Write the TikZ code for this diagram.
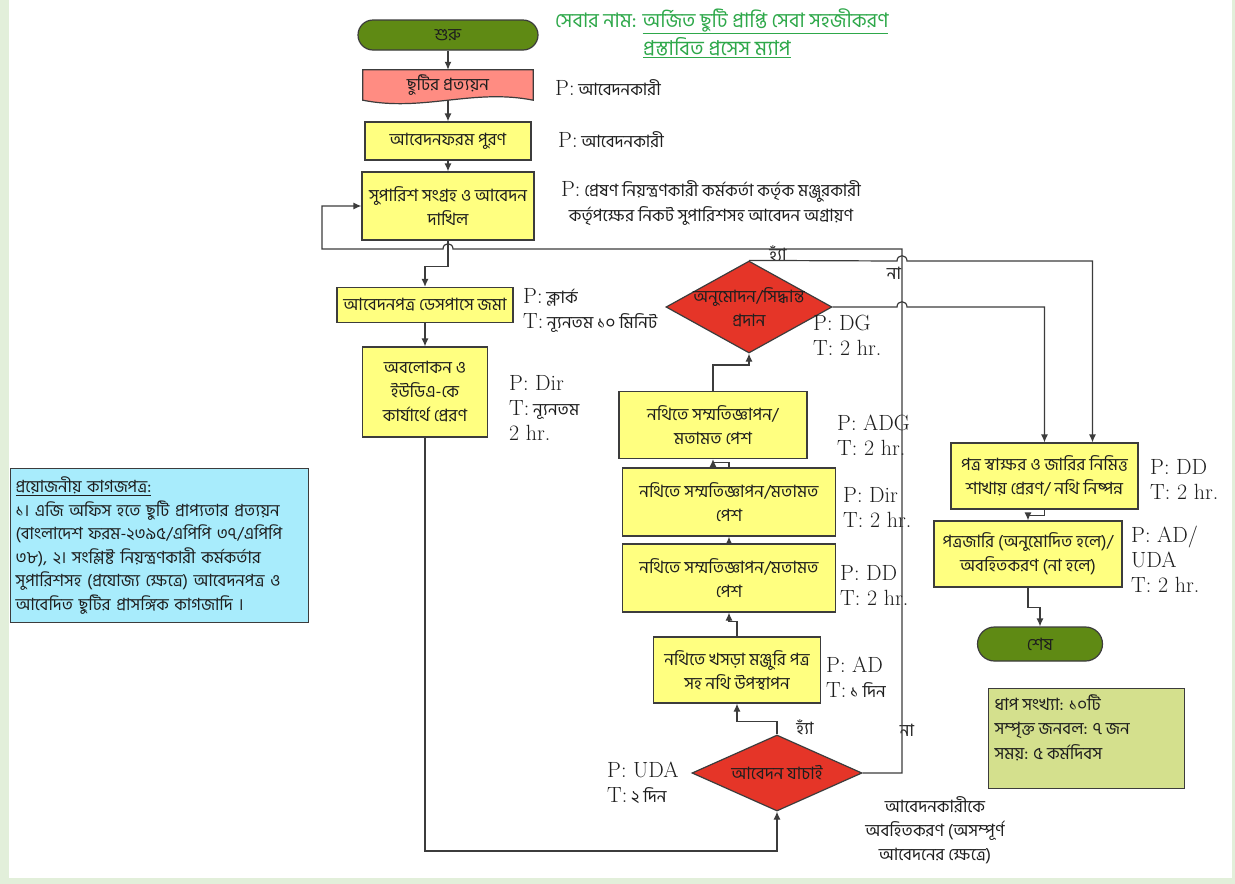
\documentclass[tikz,border=0pt]{standalone}
\usepackage{fontspec}
\newfontfamily\bangla[Script=Bengali]{Hind Siliguri}
\usetikzlibrary{arrows.meta,positioning,shapes.geometric,backgrounds}
\definecolor{pillgreen}{RGB}{95,138,20}
\definecolor{docred}{RGB}{255,140,130}
\definecolor{boxyellow}{RGB}{255,255,128}
\definecolor{diared}{RGB}{229,53,40}
\definecolor{notecyan}{RGB}{168,236,252}
\definecolor{noteolive}{RGB}{212,224,141}
\definecolor{titlegreen}{RGB}{46,168,74}
\definecolor{framegreen}{RGB}{226,239,218}
\definecolor{edge}{RGB}{60,60,60}
\definecolor{ink}{RGB}{30,30,30}
\newcommand{\bsize}{\bangla\fontsize{17}{24}\selectfont}
\newcommand{\lsize}{\fontsize{22}{25}\selectfont}

\begin{document}
\begin{tikzpicture}[x=1pt,y=-1pt,>=Latex,
  box/.style={draw=edge,fill=boxyellow,line width=1.2pt,align=center,font=\bsize,text=ink,inner sep=2pt},
  pill/.style={draw=edge,fill=pillgreen,line width=1.2pt,rounded corners=15pt,font=\bsize,text=ink},
  dia/.style={diamond,draw=edge,fill=diared,line width=1.2pt,inner sep=0pt},
  dtext/.style={font=\bsize,align=center,text=ink},
  lbl/.style={anchor=west,align=left,font=\lsize,inner sep=0pt,text=ink},
  tag/.style={font=\bsize,inner sep=0pt,text=ink},
  arr/.style={-{Latex[length=8pt,width=7pt]},draw=edge,line width=1.2pt}]
% frame
\begin{scope}[on background layer]
\fill[framegreen] (0,0) rectangle (1235,884);
\fill[white] (9,0) rectangle (1232,878);
\end{scope}
\useasboundingbox (0,0) rectangle (1235,884);

% title
\node[anchor=base west,font=\bangla\fontsize{20}{28}\selectfont,text=titlegreen,inner sep=0pt] (title) at (555,27) {সেবার নাম: \underline{অর্জিত ছুটি প্রাপ্তি সেবা সহজীকরণ}};
\node[anchor=base west,font=\bangla\fontsize{20.5}{28}\selectfont,text=titlegreen,inner sep=0pt] (subtitle) at (643,55) {\underline{প্রস্তাবিত প্রসেস ম্যাপ}};

% left column
\node[pill,minimum width=180pt,minimum height=30pt] (start) at (448,35) {শুরু};
\node[minimum width=170pt,minimum height=30pt,font=\bsize,text=ink,inner sep=0pt] (doc) at (448,85) {ছুটির প্রত্যয়ন};
\begin{scope}[on background layer]
\draw[draw=edge,fill=docred,line width=1.2pt] (doc.north west) -- (doc.north east) -- (doc.south east)
  .. controls +(-60,-12) and +(60,12) .. (doc.south west) -- cycle;
\end{scope}
\node[box,minimum width=166pt,minimum height=38pt] (form) at (448,141) {আবেদনফরম পুরণ};
\node[box,minimum width=172pt,minimum height=68pt] (recommend) at (448,206) {সুপারিশ সংগ্রহ ও আবেদন\\দাখিল};
\node[box,minimum width=176pt,minimum height=35pt] (desk) at (425,305) {আবেদনপত্র ডেসপাসে জমা};
\node[box,minimum width=125pt,minimum height=90pt] (review) at (425,392) {অবলোকন ও\\ইউডিএ-কে\\কার্যার্থে প্রেরণ};

% middle column
\node[dia,minimum width=170pt,minimum height=76pt,label={[dtext]center:আবেদন যাচাই}] (verify) at (777,773) {};
\node[box,minimum width=167pt,minimum height=66pt] (draft) at (737,670) {নথিতে খসড়া মঞ্জুরি পত্র\\সহ নথি উপস্থাপন};
\node[box,minimum width=213pt,minimum height=68pt] (opinionA) at (729,578) {নথিতে সম্মতিজ্ঞাপন/মতামত\\পেশ};
\node[box,minimum width=213pt,minimum height=68pt] (opinionB) at (729,502) {নথিতে সম্মতিজ্ঞাপন/মতামত\\পেশ};
\node[box,minimum width=188pt,minimum height=67pt] (opinionC) at (713,425) {নথিতে সম্মতিজ্ঞাপন/\\মতামত পেশ};
\node[dia,minimum width=166pt,minimum height=92pt,label={[dtext]center:{অনুমোদন/সিদ্ধান্ত\\প্রদান}}] (decide) at (749,307) {};

% right column
\node[box,minimum width=187pt,minimum height=66pt] (sign) at (1044.5,476) {পত্র স্বাক্ষর ও জারির নিমিত্ত\\শাখায় প্রেরণ/ নথি নিষ্পন্ন};
\node[box,minimum width=188pt,minimum height=66pt] (issue) at (1028,554) {পত্রজারি (অনুমোদিত হলে)/\\অবহিতকরণ (না হলে)};
\node[pill,minimum width=125pt,minimum height=34pt,rounded corners=17pt] (stop) at (1040,644) {শেষ};

% notes
\node[draw=edge,fill=notecyan,line width=1.2pt,anchor=north west,text width=288pt,minimum height=154pt,inner sep=5pt,align=left,font=\bangla\fontsize{16.8}{23.5}\selectfont,text=ink] (papers) at (10,468)
  {\underline{প্রয়োজনীয় কাগজপত্র:}\\১। এজি অফিস হতে ছুটি প্রাপ্যতার প্রত্যয়ন\\(বাংলাদেশ ফরম-২৩৯৫/এপিপি ৩৭/এপিপি\\৩৮), ২। সংশ্লিষ্ট নিয়ন্ত্রণকারী কর্মকর্তার\\সুপারিশসহ (প্রযোজ্য ক্ষেত্রে) আবেদনপত্র ও\\আবেদিত ছুটির প্রাসঙ্গিক কাগজাদি ।};
\node[draw=edge,fill=noteolive,line width=1.2pt,anchor=north west,inner sep=6pt,font=\bangla\fontsize{17}{24.5}\selectfont,text=ink] (summary) at (988,688)
  {\parbox[c][88pt][t]{184pt}{ধাপ সংখ্যা: ১০টি\\সম্পৃক্ত জনবল: ৭ জন\\সময়: ৫ কর্মদিবস}};

% P / T labels
\node[lbl] (pApplicant) at (555,88) {P:{\bsize\ আবেদনকারী}};
\node[lbl] (pApplicantB) at (558,140) {P:{\bsize\ আবেদনকারী}};
\node[lbl,align=center,anchor=center] (pForward) at (711,203) {P:{\bsize\ প্রেষণ নিয়ন্ত্রণকারী কর্মকর্তা কর্তৃক মঞ্জুরকারী}\\{\bsize কর্তৃপক্ষের নিকট সুপারিশসহ আবেদন অগ্রায়ণ}};
\node[lbl] (pClerk) at (523,310) {P:{\bsize\ ক্লার্ক}\\T:{\bsize\ ন্যূনতম ১০ মিনিট}};
\node[lbl] (pDir) at (509,408) {P: Dir\\T:{\bsize\ ন্যূনতম}\\2 hr.};
\node[lbl] (pDG) at (813,335) {P: DG\\T: 2 hr.};
\node[lbl] (pADG) at (837,435) {P: ADG\\T: 2 hr.};
\node[lbl] (pDirB) at (843,507) {P: Dir\\T: 2 hr.};
\node[lbl] (pDD) at (840,585) {P: DD\\T: 2 hr.};
\node[lbl] (pAD) at (826,677) {P: AD\\T:{\bsize\ ১ দিন}};
\node[lbl] (pUDA) at (607,783) {P: UDA\\T:{\bsize\ ২ দিন}};
\node[lbl] (pDDB) at (1150,479) {P: DD\\T: 2 hr.};
\node[lbl] (pADUDA) at (1131,559) {P: AD/\\UDA\\T: 2 hr.};
\node[tag,align=center] (inform) at (935,830) {আবেদনকারীকে\\অবহিতকরণ (অসম্পূর্ণ\\আবেদনের ক্ষেত্রে)};

% branch tags
\node[tag] (yesA) at (778,253) {হ্যাঁ};
\node[tag] (noA) at (894,273) {না};
\node[tag] (yesB) at (805,727) {হ্যাঁ};
\node[tag] (noB) at (907,730) {না};

% connectors
\draw[arr] (start) -- (doc);
\draw[arr] (doc) -- (form);
\draw[arr] (form) -- (recommend);
\draw[arr] (recommend.south) -- ++(0,26) -| (desk.north);
\draw[arr] (desk) -- (review);
\draw[arr] (review.south) |- (777,851) -- (verify.south);
\draw[arr] (verify.north) -- ++(0,-13) -| (draft.south);
\draw[arr] (verify.east) -| (902,249) -- (453,249) .. controls (453,242) and (443,242) .. (443,249) -- (322,249) |- (recommend.west);
\draw[arr] (draft.north) -- ++(0,-15) -| (opinionA.south);
\draw[arr] (opinionA) -- (opinionB);
\draw[arr] (opinionB.north) -- ++(0,-5) -| (opinionC.south);
\draw[arr] (opinionC.north) -- ++(0,-26) -| (decide.south);
\draw[arr] (decide.north) -- (897,261) .. controls (897,254) and (907,254) .. (907,261) -| ([xshift=48pt]sign.north);
\draw[arr] (decide.east) -- (897,307) .. controls (897,300) and (907,300) .. (907,307) -| (sign.north);
\draw[arr] (sign.south) -- ++(0,6) -| (issue.north);
\draw[arr] (issue.south) -- ++(0,20) -| (stop.north);
\end{tikzpicture}
\end{document}
